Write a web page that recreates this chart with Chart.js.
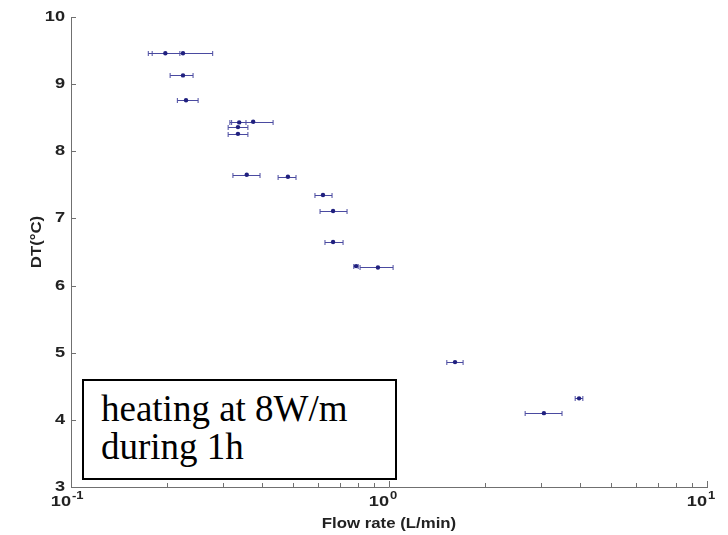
<!DOCTYPE html>
<html>
<head>
<meta charset="utf-8">
<script src="https://cdn.jsdelivr.net/npm/chart.js@4.4.1/dist/chart.umd.min.js"></script>
<style>
  body { margin: 0; background: #fff; }
  #wrap { position: relative; width: 728px; height: 535px; }
  #note {
    position: absolute; left: 82px; top: 379px; width: 315px; height: 101px;
    box-sizing: border-box; border: 2px solid #000; background: #fff;
    padding: 9px 0 0 17px;
    font-family: "Liberation Serif", "Times New Roman", serif;
    font-size: 37px; line-height: 38px; color: #000; white-space: nowrap;
  }
</style>
</head>
<body>
<div id="wrap">
  <canvas id="chart" width="728" height="535"></canvas>
  <div id="note">heating at 8W/m<br>during 1h</div>
</div>
<script>
// mesures : débit (L/min) avec barre d'erreur, et écart de température
const flowRate = [0.225, 0.198, 0.225, 0.230, 0.374, 0.338, 0.335, 0.335, 0.357, 0.481, 0.620, 0.667, 0.667, 0.923, 0.788, 1.613, 3.07, 3.96];
const flowMin  = [0.175, 0.180, 0.205, 0.216, 0.316, 0.320, 0.312, 0.312, 0.323, 0.448, 0.585, 0.607, 0.629, 0.811, 0.775, 1.52, 2.68, 3.85];
const flowMax  = [0.279, 0.220, 0.242, 0.251, 0.432, 0.355, 0.360, 0.360, 0.393, 0.510, 0.662, 0.738, 0.717, 1.03, 0.800, 1.71, 3.50, 4.07];
const deltaT   = [9.46, 9.46, 9.13, 8.76, 8.44, 8.43, 8.36, 8.26, 7.65, 7.62, 7.35, 7.11, 6.65, 6.27, 6.29, 4.86, 4.10, 4.32];

const yTicks = [3, 4, 5, 6, 7, 8, 9, 10];
const xDecades = [0.1, 1, 10];
const xExponents = ["-1", "0", "1"];

const pointColor = "#20207f";
const barColor = "#4a4aa0";
const axisColor = "#707070";
const textColor = "#222";

// texte élargi horizontalement (la figure d'origine est étirée)
function wideText(ctx, txt, x, y, sx, align) {
    ctx.save();
    ctx.translate(x, y);
    ctx.scale(sx, 1);
    ctx.textAlign = align;
    ctx.fillText(txt, 0, 0);
    ctx.restore();
}

const errorBars = {
    id: "errorBars",
    beforeDatasetsDraw(chart) {
        const ctx = chart.ctx, xs = chart.scales.x, ys = chart.scales.y;
        ctx.save();
        ctx.strokeStyle = barColor;
        ctx.lineWidth = 1;
        deltaT.forEach((t, i) => {
            const py = Math.round(ys.getPixelForValue(t)) + 0.5;
            const x1 = xs.getPixelForValue(flowMin[i]);
            const x2 = xs.getPixelForValue(flowMax[i]);
            ctx.beginPath();
            ctx.moveTo(x1, py); ctx.lineTo(x2, py);
            ctx.moveTo(x1, py - 2.5); ctx.lineTo(x1, py + 2.5);
            ctx.moveTo(x2, py - 2.5); ctx.lineTo(x2, py + 2.5);
            ctx.stroke();
        });
        ctx.restore();
    }
};

const axesDeco = {
    id: "axesDeco",
    afterDraw(chart) {
        const ctx = chart.ctx, xs = chart.scales.x, ys = chart.scales.y;
        const area = chart.chartArea;
        ctx.save();
        ctx.strokeStyle = axisColor;
        ctx.lineWidth = 1;
        ctx.fillStyle = textColor;

        // graduations Y (vers l'intérieur)
        ctx.font = 'bold 14px "Liberation Sans", Arial, sans-serif';
        ctx.textBaseline = "middle";
        yTicks.forEach(v => {
            const py = Math.round(ys.getPixelForValue(v)) + 0.5;
            ctx.beginPath();
            ctx.moveTo(area.left, py); ctx.lineTo(area.left + 5, py);
            ctx.stroke();
            wideText(ctx, String(v), area.left - 6, py, 1.3, "right");
        });

        // graduations X log (majeures + mineures)
        xDecades.forEach((d, k) => {
            const mults = k < xDecades.length - 1 ? [1, 2, 3, 4, 5, 6, 7, 8, 9] : [1];
            mults.forEach(m => {
                const px = Math.round(xs.getPixelForValue(d * m)) + 0.5;
                ctx.beginPath();
                ctx.moveTo(px, area.bottom); ctx.lineTo(px, area.bottom - (m === 1 ? 6 : 4));
                ctx.stroke();
            });
            const px = xs.getPixelForValue(d);
            ctx.textBaseline = "alphabetic";
            ctx.font = 'bold 14px "Liberation Sans", Arial, sans-serif';
            wideText(ctx, "10", px, area.bottom + 19, 1.3, "right");
            ctx.font = 'bold 10px "Liberation Sans", Arial, sans-serif';
            wideText(ctx, xExponents[k], px + 1, area.bottom + 12, 1.3, "left");
        });

        // titres des axes
        ctx.font = 'bold 14px "Liberation Sans", Arial, sans-serif';
        ctx.textBaseline = "alphabetic";
        wideText(ctx, "Flow rate (L/min)", (area.left + area.right) / 2, area.bottom + 41, 1.2, "center");

        ctx.save();
        ctx.translate(41, 242);
        ctx.rotate(-Math.PI / 2);
        ctx.font = 'bold 14px "Liberation Sans", Arial, sans-serif';
        wideText(ctx, "DT(°C)", 0, 0, 1.2, "center");
        ctx.restore();

        ctx.restore();
    }
};

const points = flowRate.map((f, i) => ({ x: f, y: deltaT[i] }));

new Chart(document.getElementById("chart"), {
    type: "scatter",
    data: {
        datasets: [{
            data: points,
            backgroundColor: pointColor,
            borderColor: pointColor,
            pointRadius: 2.2,
            pointHoverRadius: 2.2,
            borderWidth: 0
        }]
    },
    options: {
        responsive: false,
        devicePixelRatio: 1,
        animation: false,
        layout: { padding: { left: 71, right: 21, top: 17, bottom: 48 } },
        plugins: { legend: { display: false }, tooltip: { enabled: false } },
        scales: {
            x: {
                type: "logarithmic",
                min: 0.1, max: 10,
                ticks: { display: false },
                grid: { display: false, drawTicks: false },
                border: { display: true, color: axisColor, width: 1 }
            },
            y: {
                type: "linear",
                min: 3, max: 10,
                ticks: { display: false },
                grid: { display: false, drawTicks: false },
                border: { display: true, color: axisColor, width: 1 }
            }
        }
    },
    plugins: [errorBars, axesDeco]
});
</script>
</body>
</html>
